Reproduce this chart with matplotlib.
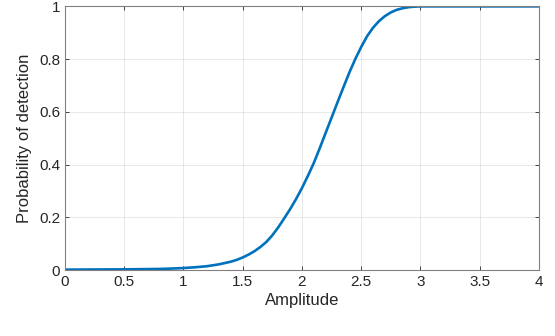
import matplotlib

matplotlib.use("Agg")
import matplotlib.pyplot as plt

# values
AMPLITUDE = [
    0.0, 0.5, 0.8, 0.9, 1.0, 1.1, 1.2, 1.3, 1.35, 1.4, 1.45, 1.5, 1.55, 1.6,
    1.65, 1.7, 1.75, 1.8, 1.85, 1.9, 1.95, 2.0, 2.05, 2.1, 2.15, 2.2, 2.25,
    2.3, 2.35, 2.4, 2.45, 2.5, 2.55, 2.6, 2.65, 2.7, 2.75, 2.8, 2.85, 2.9,
    2.95, 3.0, 3.5, 4.0,
]
PD = [
    0.002, 0.003, 0.0045, 0.006, 0.008, 0.011, 0.015, 0.022, 0.027, 0.032,
    0.039, 0.048, 0.059, 0.072, 0.088, 0.107, 0.132, 0.162, 0.196, 0.231,
    0.269, 0.311, 0.357, 0.406, 0.462, 0.520, 0.578, 0.636, 0.693, 0.749,
    0.800, 0.846, 0.887, 0.919, 0.944, 0.963, 0.977, 0.987, 0.993, 0.997,
    0.999, 1.0, 1.0, 1.0,
]
X_TICKS = [0, 0.5, 1, 1.5, 2, 2.5, 3, 3.5, 4]
X_LABELS = ["0", "0.5", "1", "1.5", "2", "2.5", "3", "3.5", "4"]
Y_TICKS = [0, 0.2, 0.4, 0.6, 0.8, 1]
Y_LABELS = ["0", "0.2", "0.4", "0.6", "0.8", "1"]

plt.rcParams["font.family"] = ["Liberation Sans", "DejaVu Sans"]

fig = plt.figure(figsize=(5.55, 3.36), dpi=100)
ax = fig.add_axes([0.117, 0.196, 0.854, 0.785])

ax.plot(AMPLITUDE, PD, color="#0072BD", lw=1.9, solid_capstyle="butt")

ax.set_xlim(0, 4)
ax.set_ylim(0, 1)
ax.set_xticks(X_TICKS, X_LABELS)
ax.set_yticks(Y_TICKS, Y_LABELS)
ax.grid(True, color="#262626", alpha=0.12, lw=0.6)
ax.tick_params(direction="in", top=True, right=True, length=3, width=0.6,
               colors="#262626", labelsize=11, labelcolor="#262626")
for s in ax.spines.values():
    s.set_color("#808080")
    s.set_linewidth(0.8)

ax.set_xlabel("Amplitude", fontsize=12, color="#262626", labelpad=3)
ax.set_ylabel("Probability of detection", fontsize=12, color="#262626", labelpad=5)

fig.savefig("out.png", dpi=100)
